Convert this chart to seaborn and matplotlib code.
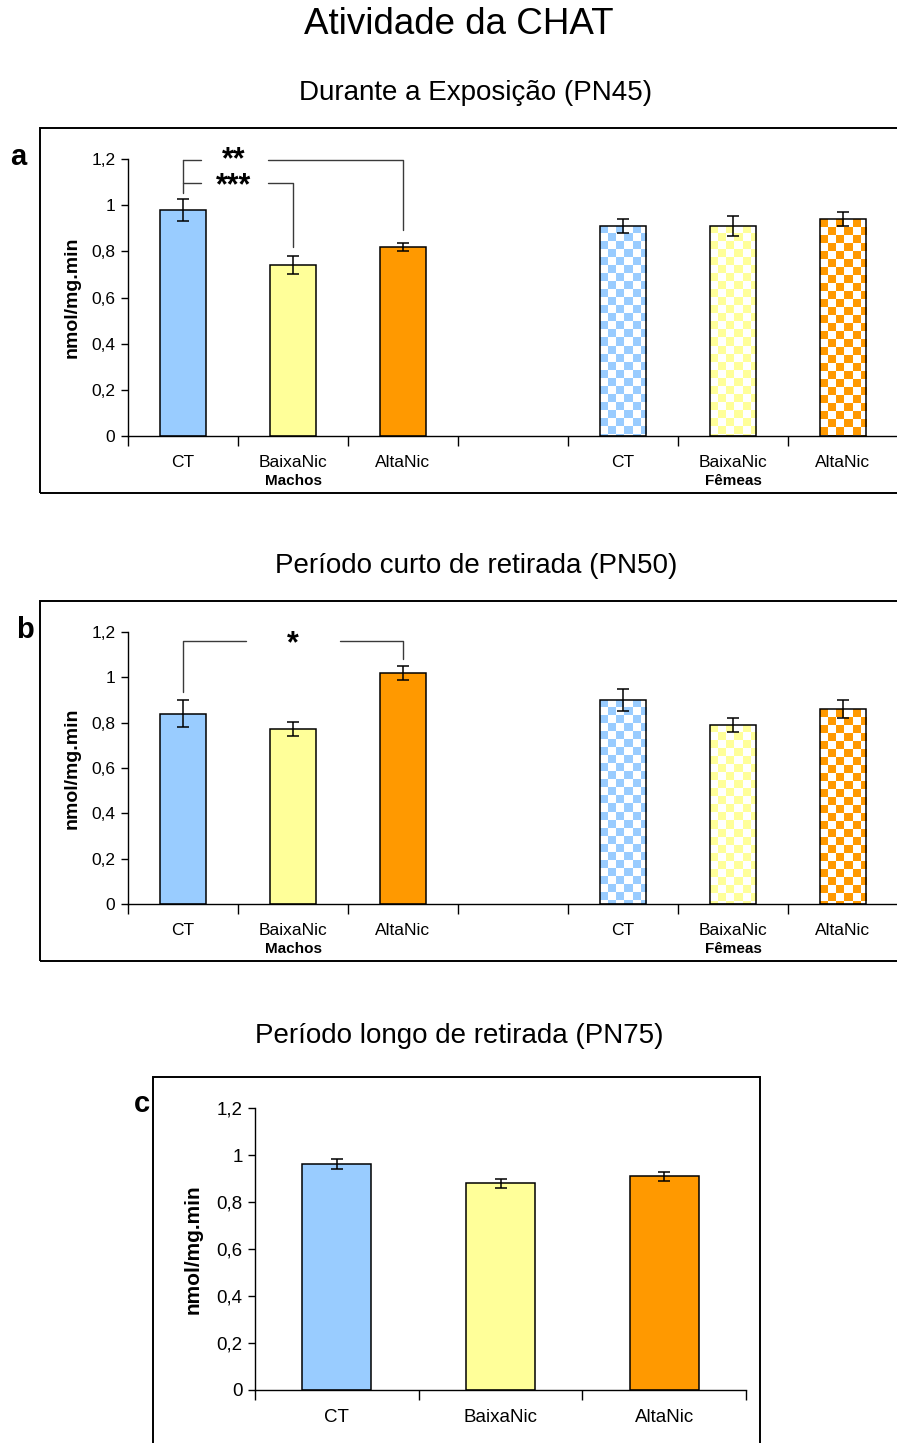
import numpy as np
import pandas as pd
import matplotlib
matplotlib.use("Agg")
import matplotlib.pyplot as plt
import matplotlib.transforms as mtransforms
from matplotlib.patches import Rectangle
import seaborn as sns

# ---------------- data ----------------
groups = ["CT", "BaixaNic", "AltaNic"]
colors = ["#99CCFF", "#FFFF99", "#FF9900"]

a_male = [0.98, 0.74, 0.82]
a_male_err = [0.047, 0.040, 0.018]
a_female = [0.91, 0.91, 0.94]
a_female_err = [0.030, 0.042, 0.030]

b_male = [0.84, 0.77, 1.02]
b_male_err = [0.060, 0.031, 0.030]
b_female = [0.90, 0.79, 0.86]
b_female_err = [0.050, 0.030, 0.040]

c_vals = [0.96, 0.88, 0.91]
c_err = [0.021, 0.019, 0.019]

yticks = [0, 0.2, 0.4, 0.6, 0.8, 1.0, 1.2]
yticklabels = ["0", "0,2", "0,4", "0,6", "0,8", "1", "1,2"]

sns.set_theme(style="white")
plt.rcParams["font.family"] = ["Liberation Sans", "DejaVu Sans"]
plt.rcParams["text.color"] = "black"
plt.rcParams["axes.labelcolor"] = "black"
plt.rcParams["xtick.color"] = "black"
plt.rcParams["ytick.color"] = "black"

W, H = 897, 1443
DPI = 100
fig = plt.figure(figsize=(W / DPI, H / DPI), dpi=DPI)


def frac(x0, y0, x1, y1):
    """pixel box -> figure fraction [left, bottom, width, height]"""
    return [x0 / W, 1 - y1 / H, (x1 - x0) / W, (y1 - y0) / H]


def frame(x0, y0, x1, y1):
    l, b, w, h = frac(x0, y0, x1, y1)
    fig.patches.append(Rectangle((l, b), w, h, transform=fig.transFigure,
                                 fill=False, edgecolor="black", linewidth=1.4))


def checker(ax, patch, color, cell_px=8):
    bb = patch.get_bbox()
    x0, x1 = bb.x0, bb.x1
    ytop = bb.y1
    inv = ax.transData.inverted()
    p0 = inv.transform((0, 0))
    p1 = inv.transform((cell_px, cell_px))
    dx, dy = p1[0] - p0[0], p1[1] - p0[1]
    ncol = int(np.ceil((x1 - x0) / dx))
    nrow = int(np.ceil(ytop / dy))
    ii, jj = np.indices((nrow, ncol))
    mask = (ii + jj) % 2 == 0
    rgb = np.array(matplotlib.colors.to_rgb(color))
    img = np.ones((nrow, ncol, 3))
    img[mask] = rgb
    im = ax.imshow(img, extent=(x0, x0 + ncol * dx, ytop - nrow * dy, ytop),
                   origin="upper", aspect="auto", interpolation="nearest", zorder=1.5)
    im.set_clip_path(patch)


def make_panel(ax, cats, vals, errs, pal, labels, n_slots, tick_fs, checker_keys=()):
    df = pd.DataFrame({"key": [c for c in cats if c in vals],
                       "val": [vals[c] for c in cats if c in vals]})
    sns.barplot(data=df, x="key", y="val", hue="key", order=cats,
                palette=pal, saturation=1, width=0.42, edgecolor="black", linewidth=1.1,
                errorbar=None, legend=False, ax=ax, zorder=2)
    ax.set_xlim(-0.5, n_slots - 0.5)
    ax.set_ylim(0, 1.2)
    ax.set_xlabel("")
    ax.set_ylabel("")
    centers = {}
    for p in ax.patches:
        cx = p.get_x() + p.get_width() / 2
        idx = int(round(cx))
        centers[cats[idx]] = (cx, p)
    keys = [k for k in cats if k in vals]
    ax.errorbar([centers[k][0] for k in keys], [vals[k] for k in keys],
                yerr=[errs[k] for k in keys], fmt="none", ecolor="black",
                elinewidth=1.1, capsize=4, capthick=1.1, zorder=4)
    for k in checker_keys:
        cx, p = centers[k]
        col = p.get_facecolor()
        checker(ax, p, col)
        p.set_facecolor("none")
        p.set_zorder(3)
    ax.set_xlim(-0.5, n_slots - 0.5)
    ax.set_ylim(0, 1.2)
    for s in ["top", "right"]:
        ax.spines[s].set_visible(False)
    for s in ["left", "bottom"]:
        ax.spines[s].set_color("black")
        ax.spines[s].set_linewidth(1.0)
    ax.set_yticks(yticks)
    ax.set_yticklabels(yticklabels, fontsize=tick_fs)
    ax.set_xticks(np.arange(-0.5, n_slots, 1.0))
    ax.set_xticklabels([])
    ax.set_xticks(np.arange(n_slots), minor=True)
    ax.set_xticklabels(labels, minor=True, fontsize=tick_fs)
    ax.tick_params(axis="y", which="major", direction="out", length=5, width=1,
                   color="black", left=True, pad=4, labelcolor="black")
    ax.tick_params(axis="x", which="major", direction="out", length=7, width=1,
                   color="black", bottom=True)
    ax.tick_params(axis="x", which="minor", length=0, pad=14, labelcolor="black")
    ax.grid(False)
    ax.set_facecolor("none")
    return {k: v[0] for k, v in centers.items()}


cats7 = ["M_CT", "M_BaixaNic", "M_AltaNic", "gap", "F_CT", "F_BaixaNic", "F_AltaNic"]
labels7 = ["CT", "BaixaNic", "AltaNic", "", "CT", "BaixaNic", "AltaNic"]
pal7 = {"M_CT": colors[0], "M_BaixaNic": colors[1], "M_AltaNic": colors[2],
        "F_CT": colors[0], "F_BaixaNic": colors[1], "F_AltaNic": colors[2]}
fem_keys = ["F_CT", "F_BaixaNic", "F_AltaNic"]

line_kw = dict(color="#3a3a3a", linewidth=1.0, zorder=5, clip_on=False)
star_kw = dict(ha="center", va="baseline", fontsize=22, fontweight="bold")

# ---------------- titles ----------------
fig.text(459 / W, 1 - 25 / H, "Atividade da CHAT", ha="center", va="center", fontsize=26.5)
fig.text(476 / W, 1 - 93 / H, "Durante a Exposição (PN45)", ha="center", va="center", fontsize=20)
fig.text(476 / W, 1 - 566 / H, "Período curto de retirada (PN50)", ha="center", va="center", fontsize=20)
fig.text(459 / W, 1 - 1036 / H, "Período longo de retirada (PN75)", ha="center", va="center", fontsize=20)

# ---------------- panel a ----------------
frame(40, 128, 920, 493)
axa = fig.add_axes(frac(128, 159, 898, 436))
va = dict(zip(cats7[:3], a_male)); va.update(dict(zip(fem_keys, a_female)))
ea = dict(zip(cats7[:3], a_male_err)); ea.update(dict(zip(fem_keys, a_female_err)))
make_panel(axa, cats7, va, ea, pal7, labels7, 7, 12.5, fem_keys)
axa.set_ylabel("nmol/mg.min", fontsize=14, fontweight="bold", labelpad=8)
blend = mtransforms.blended_transform_factory(axa.transData, axa.transAxes)
axa.text(1, -0.162, "Machos", transform=blend, ha="center", va="center", fontsize=11, fontweight="bold")
axa.text(5, -0.162, "Fêmeas", transform=blend, ha="center", va="center", fontsize=11, fontweight="bold")
fig.text(18 / W, 1 - 157 / H, "a", ha="center", va="center", fontsize=21, fontweight="bold")

# significance brackets (a)
y2, y3 = 1.196, 1.096
g0, g1 = 0.164, 0.773
axa.plot([0, 0], [y2, 1.053], **line_kw)
axa.plot([0, g0], [y2, y2], **line_kw)
axa.plot([g1, 2, 2], [y2, y2, 0.893], **line_kw)
axa.plot([0, g0], [y3, y3], **line_kw)
axa.plot([g1, 1, 1], [y3, y3, 0.82], **line_kw)
axa.text(0.464, y3 - 0.050, "**\n***", multialignment="center", linespacing=0.82, **star_kw)

# ---------------- panel b ----------------
frame(40, 601, 920, 961)
axb = fig.add_axes(frac(128, 632, 898, 904))
vb = dict(zip(cats7[:3], b_male)); vb.update(dict(zip(fem_keys, b_female)))
eb = dict(zip(cats7[:3], b_male_err)); eb.update(dict(zip(fem_keys, b_female_err)))
make_panel(axb, cats7, vb, eb, pal7, labels7, 7, 12.5, fem_keys)
axb.set_ylabel("nmol/mg.min", fontsize=14, fontweight="bold", labelpad=8)
blend = mtransforms.blended_transform_factory(axb.transData, axb.transAxes)
axb.text(1, -0.165, "Machos", transform=blend, ha="center", va="center", fontsize=11, fontweight="bold")
axb.text(5, -0.165, "Fêmeas", transform=blend, ha="center", va="center", fontsize=11, fontweight="bold")
fig.text(25 / W, 1 - 630 / H, "b", ha="center", va="center", fontsize=21, fontweight="bold")

yb = 1.16
axb.plot([0, 0, 0.573], [0.936, yb, yb], **line_kw)
axb.plot([1.427, 2, 2], [yb, yb, 1.083], **line_kw)
axb.text(1.0, yb - 0.051, "*", **star_kw)

# ---------------- panel c ----------------
frame(153, 1077, 760, 1460)
axc = fig.add_axes(frac(255, 1108, 746, 1390))
cats3 = ["CT", "BaixaNic", "AltaNic"]
make_panel(axc, cats3, dict(zip(cats3, c_vals)), dict(zip(cats3, c_err)),
           dict(zip(cats3, colors)), groups, 3, 13.5)
axc.set_ylabel("nmol/mg.min", fontsize=15, fontweight="bold", labelpad=10)
fig.text(142 / W, 1 - 1104 / H, "c", ha="center", va="center", fontsize=21, fontweight="bold")

fig.savefig("out.png", dpi=DPI)
